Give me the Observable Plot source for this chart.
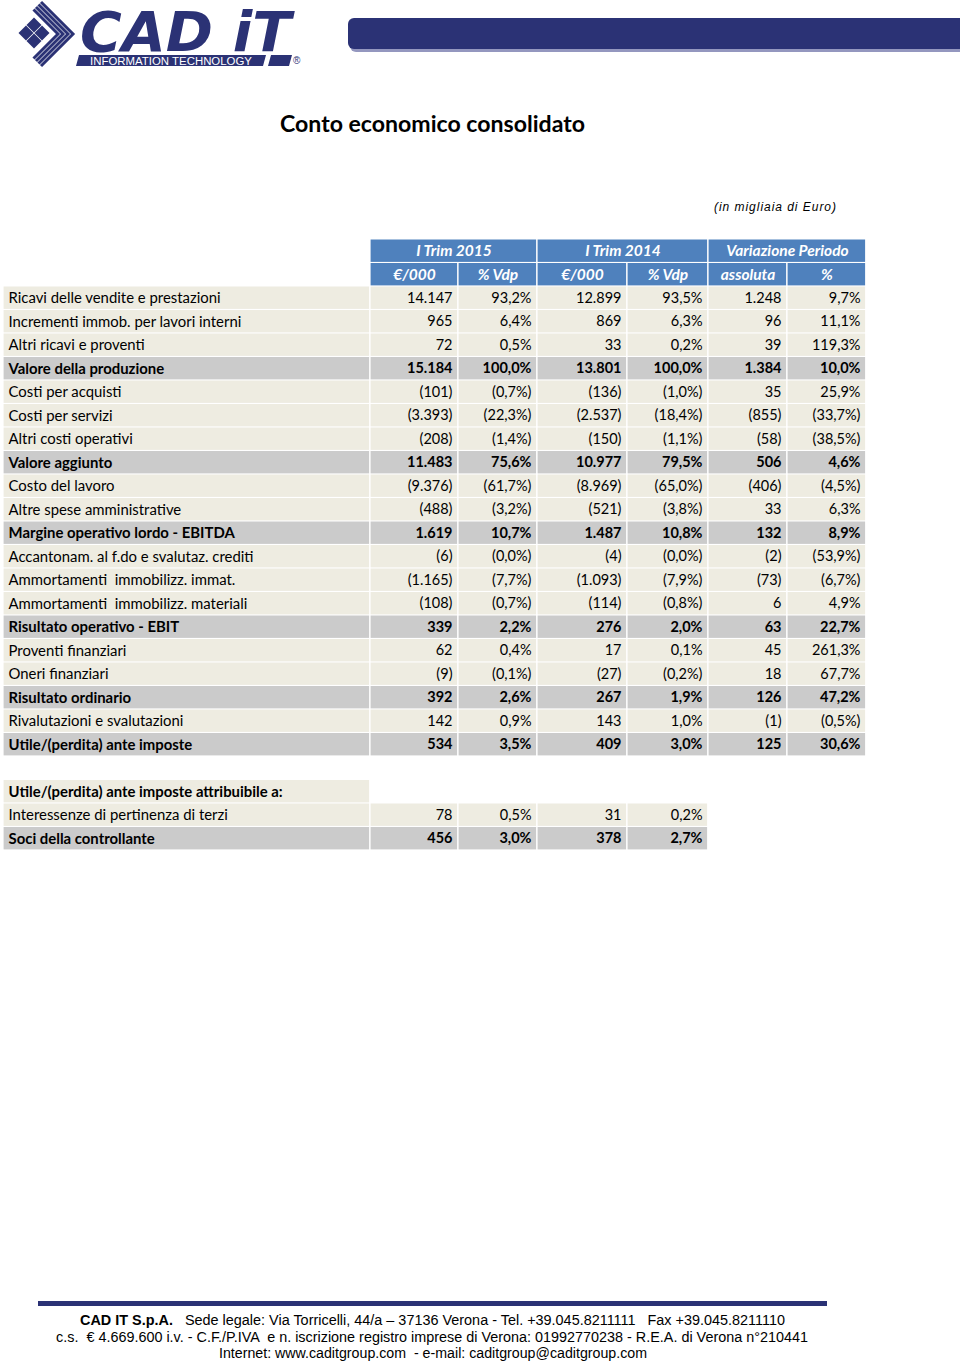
<!DOCTYPE html>
<html>
<head>
<meta charset="utf-8">
<script src="https://cdn.jsdelivr.net/npm/d3@7"></script>
<script src="https://cdn.jsdelivr.net/npm/@observablehq/plot@0.6"></script>
<style>
  html, body { margin: 0; padding: 0; background: #fff; overflow: hidden; }
  #page { position: relative; width: 960px; height: 1362px; overflow: hidden; background: #fff; }
  #deco { position: absolute; left: 0; top: 0; }
  #table { position: absolute; left: 0; top: 239px; line-height: 0; }
  #table svg { display: block; }
</style>
</head>
<body>
<div id="page">
  <svg id="deco" width="960" height="1362" xmlns="http://www.w3.org/2000/svg">
    <!-- logo emblem -->
    <g fill="#2B3275">
      <polygon points="34,17.5 41.5,25 34,32.5 26.5,25"/>
      <polygon points="26,25.5 33.5,33 26,40.5 18.5,33"/>
      <polygon points="42,25.5 49.5,33 42,40.5 34.5,33"/>
      <polygon points="34,33.5 41.5,41 34,48.5 26.5,41"/>
    </g>
    <g fill="none" stroke="#2B3275" stroke-width="3" stroke-linejoin="miter">
      <polyline points="41,2 73,34 41,66"/>
      <polyline points="38.5,4.5 68,34 38.5,63.5"/>
      <polyline points="36,7 63,34 36,61"/>
      <polyline points="33.5,9.5 58,34 33.5,58.5"/>
    </g>
    <text x="80" y="51" font-family="DejaVu Sans" font-weight="bold" font-style="italic" font-size="55" fill="#2B3275" textLength="211" lengthAdjust="spacingAndGlyphs">CAD iT</text>
    <polygon points="79,55 266,55 263,66 76,66" fill="#2B3275"/>
    <polygon points="271,55 292,55 289,66 268,66" fill="#2B3275"/>
    <text x="90" y="64.5" font-family="Liberation Sans Narrow, Liberation Sans" font-size="10" fill="#fff" textLength="162" lengthAdjust="spacingAndGlyphs">INFORMATION TECHNOLOGY</text>
    <text x="293" y="64" font-family="Liberation Sans" font-size="10" fill="#2B3275">®</text>
    <!-- top right bar -->
    <rect x="350" y="22" width="620" height="30" rx="6" fill="#9497BF"/>
    <rect x="348" y="18" width="620" height="31" rx="6" fill="#2B3275"/>
    <!-- title -->
    <text x="280" y="132" font-family="Lato" font-weight="bold" font-size="22.5" fill="#000" textLength="305" lengthAdjust="spacingAndGlyphs">Conto economico consolidato</text>
    <text x="714" y="211" font-family="Liberation Sans" font-style="italic" font-size="12" fill="#000" textLength="122" lengthAdjust="spacing">(in migliaia di Euro)</text>
    <!-- footer -->
    <rect x="38" y="1301" width="789" height="5" fill="#2B3275"/>
    <text x="80" y="1325" font-family="Liberation Sans Narrow, Liberation Sans" font-size="14" fill="#000" textLength="705" lengthAdjust="spacingAndGlyphs" style="white-space:pre"><tspan font-weight="bold">CAD IT S.p.A.</tspan>   Sede legale: Via Torricelli, 44/a – 37136 Verona - Tel. +39.045.8211111   Fax +39.045.8211110</text>
    <text x="56" y="1342" font-family="Liberation Sans Narrow, Liberation Sans" font-size="14" fill="#000" textLength="752" lengthAdjust="spacingAndGlyphs" style="white-space:pre">c.s.  € 4.669.600 i.v. - C.F./P.IVA  e n. iscrizione registro imprese di Verona: 01992770238 - R.E.A. di Verona n°210441</text>
    <text x="219" y="1358" font-family="Liberation Sans Narrow, Liberation Sans" font-size="14" fill="#000" textLength="428" lengthAdjust="spacingAndGlyphs" style="white-space:pre">Internet: www.caditgroup.com  - e-mail: caditgroup@caditgroup.com</text>
  </svg>
  <div id="table"></div>
</div>
<script>
// ---------- data ----------
const rowLabels = [
  "Ricavi delle vendite e prestazioni",
  "Incrementi immob. per lavori interni",
  "Altri ricavi e proventi",
  "Valore della produzione",
  "Costi per acquisti",
  "Costi per servizi",
  "Altri costi operativi",
  "Valore aggiunto",
  "Costo del lavoro",
  "Altre spese amministrative",
  "Margine operativo lordo - EBITDA",
  "Accantonam. al f.do e svalutaz. crediti",
  "Ammortamenti  immobilizz. immat.",
  "Ammortamenti  immobilizz. materiali",
  "Risultato operativo - EBIT",
  "Proventi finanziari",
  "Oneri finanziari",
  "Risultato ordinario",
  "Rivalutazioni e svalutazioni",
  "Utile/(perdita) ante imposte"
];
const totalRows = [false, false, false, true, false, false, false, true, false, false, true, false, false, false, true, false, false, true, false, true];
const eur2015 = [14147, 965, 72, 15184, -101, -3393, -208, 11483, -9376, -488, 1619, -6, -1165, -108, 339, 62, -9, 392, 142, 534];
const pct2015 = [93.2, 6.4, 0.5, 100.0, -0.7, -22.3, -1.4, 75.6, -61.7, -3.2, 10.7, -0.0, -7.7, -0.7, 2.2, 0.4, -0.1, 2.6, 0.9, 3.5];
const eur2014 = [12899, 869, 33, 13801, -136, -2537, -150, 10977, -8969, -521, 1487, -4, -1093, -114, 276, 17, -27, 267, 143, 409];
const pct2014 = [93.5, 6.3, 0.2, 100.0, -1.0, -18.4, -1.1, 79.5, -65.0, -3.8, 10.8, -0.0, -7.9, -0.8, 2.0, 0.1, -0.2, 1.9, 1.0, 3.0];
const varAbs = [1248, 96, 39, 1384, 35, -855, -58, 506, -406, 33, 132, -2, -73, 6, 63, 45, 18, 126, -1, 125];
const varPct = [9.7, 11.1, 119.3, 10.0, 25.9, -33.7, -38.5, 4.6, -4.5, 6.3, 8.9, -53.9, -6.7, 4.9, 22.7, 261.3, 67.7, 47.2, -0.5, 30.6];

const attribTitle = "Utile/(perdita) ante imposte attribuibile a:";
const attribLabels = ["Interessenze di pertinenza di terzi", "Soci della controllante"];
const attribTotal = [false, true];
const attribEur2015 = [78, 456];
const attribPct2015 = [0.5, 3.0];
const attribEur2014 = [31, 378];
const attribPct2014 = [0.2, 2.7];

const groupHeaders = ["I Trim 2015", "I Trim 2014", "Variazione Periodo"];
const subHeaders = ["€/000", "% Vdp", "€/000", "% Vdp", "assoluta", "%"];

// ---------- layout ----------
const colEdges = [3, 370, 458, 537, 627, 708, 787, 866];
const rowHeight = 23.5;
const pad = 6;
const colors = { header: "#4F81BD", normal: "#EEECE1", total: "#CBCBCB" };

// ---------- formatting ----------
const loc = d3.formatLocale({ decimal: ",", thousands: ".", grouping: [3], currency: ["€", ""] });
const fInt = loc.format(",d");
const fDec = loc.format(",.1f");
const isNeg = v => v < 0 || Object.is(v, -0);
const fmtEur = v => isNeg(v) ? `(${fInt(Math.abs(v))})` : fInt(v);
const fmtPct = v => isNeg(v) ? `(${fDec(Math.abs(v))}%)` : `${fDec(v)}%`;

// ---------- build cells ----------
const rowKeys = ["h1", "h2", ...rowLabels.map((_, i) => "r" + i), "gap", "a0", "a1", "a2"];
const cells = [];
groupHeaders.forEach((t, g) => {
  const x1 = colEdges[1 + 2 * g], x2 = colEdges[3 + 2 * g];
  cells.push({ row: "h1", x1, x2, tx: (x1 + x2) / 2, text: t, fill: colors.header, kind: "header" });
});
subHeaders.forEach((t, j) => {
  const x1 = colEdges[1 + j], x2 = colEdges[2 + j];
  cells.push({ row: "h2", x1, x2, tx: (x1 + x2) / 2, text: t, fill: colors.header, kind: "header" });
});
function addRow(key, label, values, total) {
  const fill = total ? colors.total : colors.normal;
  cells.push({ row: key, x1: colEdges[0], x2: colEdges[1], tx: colEdges[0] + 5, text: label, fill, kind: "label", bold: total });
  values.forEach((t, j) => {
    const x1 = colEdges[1 + j], x2 = colEdges[2 + j];
    cells.push({ row: key, x1, x2, tx: x2 - pad, text: t, fill, kind: "value", bold: total });
  });
}
rowLabels.forEach((lab, i) => {
  addRow("r" + i, lab, [
    fmtEur(eur2015[i]), fmtPct(pct2015[i]),
    fmtEur(eur2014[i]), fmtPct(pct2014[i]),
    fmtEur(varAbs[i]), fmtPct(varPct[i])
  ], totalRows[i]);
});
addRow("a0", attribTitle, [], true);
cells[cells.length - 1].fill = colors.normal;
attribLabels.forEach((lab, i) => {
  addRow("a" + (i + 1), lab, [
    fmtEur(attribEur2015[i]), fmtPct(attribPct2015[i]),
    fmtEur(attribEur2014[i]), fmtPct(attribPct2014[i])
  ], attribTotal[i]);
});

const H = rowKeys.length * rowHeight;
const textBase = { y: "row", text: "text", fill: "#000" };

const chart = Plot.plot({
  width: 960,
  height: H,
  margin: 0,
  x: { type: "linear", domain: [0, 960], range: [0, 960], axis: null },
  y: { type: "band", domain: rowKeys, range: [0, H], padding: 0, round: false, axis: null },
  color: { type: "identity" },
  style: { fontFamily: "Lato, sans-serif", background: "transparent", overflow: "visible" },
  marks: [
    Plot.barX(cells, { x1: "x1", x2: "x2", y: "row", fill: "fill", insetLeft: 0.6, insetRight: 0.9, insetTop: 0.5, insetBottom: 0.6 }),
    Plot.text(cells.filter(d => d.kind === "header"), { ...textBase, x: "tx", fontSize: 15.5, textAnchor: "middle", fill: "#fff", fontWeight: "bold", fontStyle: "italic" }),
    Plot.text(cells.filter(d => d.kind === "label" && !d.bold), { ...textBase, x: "tx", fontSize: 14.9, textAnchor: "start" }),
    Plot.text(cells.filter(d => d.kind === "label" && d.bold), { ...textBase, x: "tx", fontSize: 14.9, textAnchor: "start", fontWeight: "bold" }),
    Plot.text(cells.filter(d => d.kind === "value" && !d.bold), { ...textBase, x: "tx", fontSize: 14.5, textAnchor: "end" }),
    Plot.text(cells.filter(d => d.kind === "value" && d.bold), { ...textBase, x: "tx", fontSize: 14.5, textAnchor: "end", fontWeight: "bold" })
  ]
});
document.getElementById("table").appendChild(chart);
</script>
</body>
</html>
